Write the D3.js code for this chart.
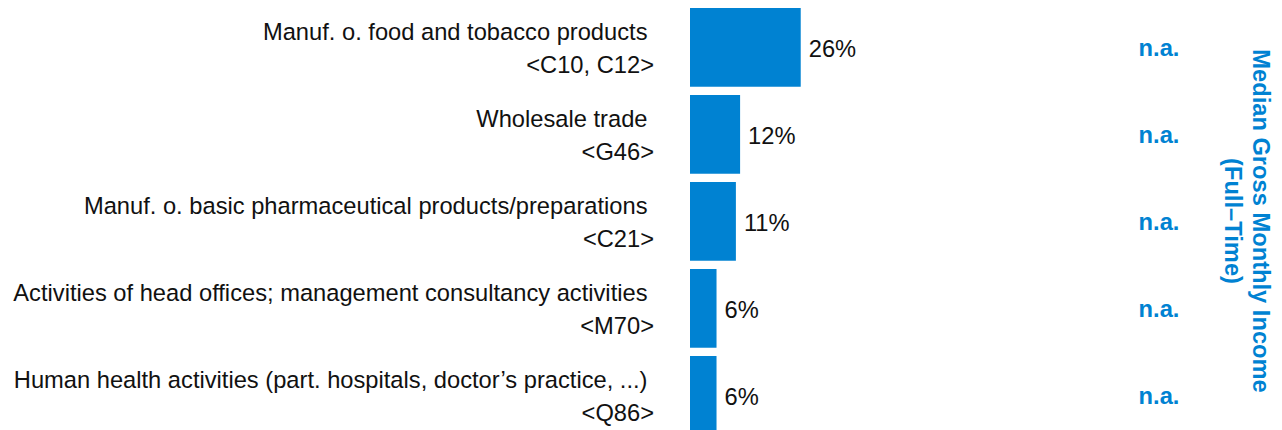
<!DOCTYPE html>
<html>
<head>
<meta charset="utf-8">
<script src="https://cdn.jsdelivr.net/npm/d3@7"></script>
<style>
  body { margin: 0; background: #fff; }
  svg { display: block; font-family: "Liberation Sans", Arial, sans-serif; }
</style>
</head>
<body>
<svg width="1282" height="430"></svg>
<script>
// chart data
const industries = [
  "Manuf. o. food and tobacco products",
  "Wholesale trade",
  "Manuf. o. basic pharmaceutical products/preparations",
  "Activities of head offices; management consultancy activities",
  "Human health activities (part. hospitals, doctor\u2019s practice, ...)"
];
const codes = ["<C10, C12>", "<G46>", "<C21>", "<M70>", "<Q86>"];
const shares = [26.3, 11.9, 10.9, 6.3, 6.3];
const income = ["n.a.", "n.a.", "n.a.", "n.a.", "n.a."];
const incomeTitle = ["Median Gross Monthly Income", "(Full\u2013Time)"];

const blue = "#0082d2";
const fontSize = 23.7;

const svg = d3.select("svg");

const y = d3.scaleBand()
  .domain(d3.range(industries.length))
  .range([3.87, 438.87])
  .paddingInner(0.095)
  .paddingOuter(0.0475);

const x = d3.scaleLinear().domain([0, 100]).range([690, 1111]);
const pct = d3.format(".0%");

const rows = svg.selectAll("g.row")
  .data(industries.map((d, i) => ({ name: d, code: codes[i], value: shares[i], inc: income[i] })))
  .enter()
  .append("g")
  .attr("class", "row")
  .attr("transform", (d, i) => "translate(0," + (y(i) + y.bandwidth() / 2) + ")");

// bars
rows.append("rect")
  .attr("x", x(0))
  .attr("y", -y.bandwidth() / 2)
  .attr("width", d => x(d.value) - x(0))
  .attr("height", y.bandwidth())
  .attr("fill", blue);

// value labels
rows.append("text")
  .attr("x", d => x(d.value) + 8)
  .attr("y", 9.3)
  .attr("font-size", fontSize)
  .attr("fill", "#111")
  .text(d => pct(d.value / 100));

// category labels (first line had a trailing space)
rows.append("text")
  .attr("x", 647.5)
  .attr("y", -7.6)
  .attr("text-anchor", "end")
  .attr("font-size", fontSize)
  .attr("fill", "#111")
  .text(d => d.name);

rows.append("text")
  .attr("x", 654)
  .attr("y", 25.4)
  .attr("text-anchor", "end")
  .attr("font-size", fontSize)
  .attr("fill", "#111")
  .text(d => d.code);

// income column
rows.append("text")
  .attr("x", 1159)
  .attr("y", 8.6)
  .attr("text-anchor", "middle")
  .attr("font-size", fontSize)
  .attr("font-weight", "bold")
  .attr("fill", blue)
  .text(d => d.inc);

// rotated column title
const title = svg.append("text")
  .attr("transform", "translate(1253,221) rotate(90)")
  .attr("text-anchor", "middle")
  .attr("font-size", fontSize)
  .attr("font-weight", "bold")
  .attr("fill", blue);

title.selectAll("tspan")
  .data(incomeTitle)
  .enter()
  .append("tspan")
  .attr("x", 0)
  .attr("dy", (d, i) => i ? 28 : 0)
  .text(d => d);
</script>
</body>
</html>
